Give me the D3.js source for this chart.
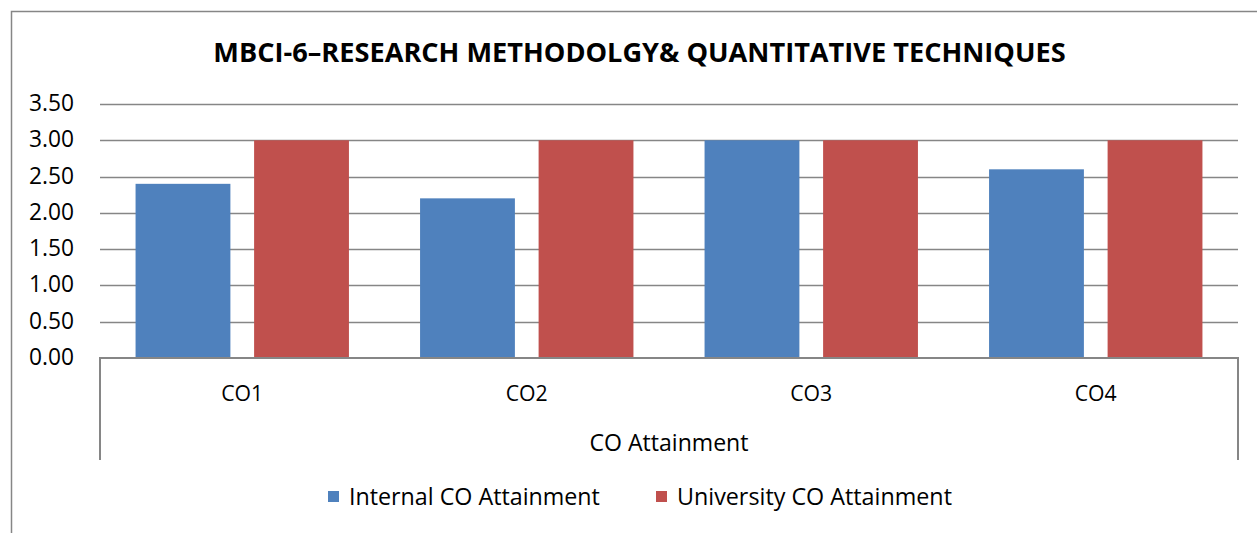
<!DOCTYPE html>
<html>
<head>
<meta charset="utf-8">
<script src="https://cdn.jsdelivr.net/npm/d3@7"></script>
<style>
  body { margin: 0; background: #fff; }
  text { font-family: "Open Sans", sans-serif; fill: #000; }
</style>
</head>
<body>
<svg id="viz" width="1257" height="533"></svg>
<script>
var categories = ['CO1', 'CO2', 'CO3', 'CO4'],
	seriesNames = ['Internal CO Attainment', 'University CO Attainment'],
	internalValues = [2.4, 2.2, 3.0, 2.6],
	universityValues = [3.0, 3.0, 3.0, 3.0],
	yTicks = [0, 0.5, 1, 1.5, 2, 2.5, 3, 3.5],
	colors = ['#4f81bd', '#c0504d'],
	title = 'MBCI-6\u2013RESEARCH METHODOLGY& QUANTITATIVE TECHNIQUES',
	groupLabel = 'CO Attainment';

var svg = d3.select('#viz');
var plotLeft = 100, plotRight = 1238, plotTop = 104, plotBottom = 358;

// shrink/grow font so the text takes the width it has in the picture
function fit(sel, width) {
	var w = sel.node().getComputedTextLength();
	var fs = parseFloat(sel.attr('font-size'));
	sel.attr('font-size', fs * width / w);
}

// outer chart border (runs off the right and bottom edge)
svg.append('rect')
	.attr('x', 11.5).attr('y', 11.5)
	.attr('width', 1300).attr('height', 600)
	.attr('fill', 'none').attr('stroke', '#868686').attr('stroke-width', 1.5);

var t = svg.append('text')
	.attr('x', 639.5).attr('y', 62)
	.attr('text-anchor', 'middle')
	.attr('font-weight', 'bold')
	.attr('font-size', 28)
	.text(title);
fit(t, 853);

var x0 = d3.scaleBand().domain(categories).range([plotLeft, plotRight]);
var x1 = d3.scaleBand().domain(seriesNames).range([0, x0.bandwidth()])
	.paddingInner(0.2).paddingOuter(0.3);
var y = d3.scaleLinear().domain([0, 3.5]).range([plotBottom, plotTop]);

// gridlines
svg.append('g').selectAll('line').data(yTicks.filter(function(d) { return d > 0; }))
	.join('line')
	.attr('x1', plotLeft).attr('x2', plotRight)
	.attr('y1', function(d) { return Math.round(y(d)) + 0.5; })
	.attr('y2', function(d) { return Math.round(y(d)) + 0.5; })
	.attr('stroke', '#868686').attr('stroke-width', 1.3);

// y labels
var yl = svg.append('g').selectAll('text').data(yTicks).join('text')
	.attr('x', 74)
	.attr('y', function(d) { return y(d) + 7; })
	.attr('text-anchor', 'end')
	.attr('font-size', 20)
	.text(function(d) { return d.toFixed(2); });
yl.each(function() { fit(d3.select(this), 45); });

// bars
var rows = categories.map(function(c, i) {
	return { cat: c, values: [internalValues[i], universityValues[i]] };
});
svg.append('g').selectAll('g').data(rows).join('g')
	.attr('transform', function(d) { return 'translate(' + x0(d.cat) + ',0)'; })
	.selectAll('rect')
	.data(function(d) { return d.values.map(function(v, j) { return { name: seriesNames[j], v: v, j: j }; }); })
	.join('rect')
	.attr('x', function(d) { return x1(d.name); })
	.attr('width', x1.bandwidth())
	.attr('y', function(d) { return y(d.v); })
	.attr('height', function(d) { return y(0) - y(d.v); })
	.attr('fill', function(d) { return colors[d.j]; });

// category axis
svg.append('path')
	.attr('d', 'M' + plotLeft + ',460V' + plotBottom + 'H' + plotRight + 'V460')
	.attr('fill', 'none').attr('stroke', '#868686').attr('stroke-width', 2);

var cl = svg.append('g').selectAll('text').data(categories).join('text')
	.attr('x', function(d) { return x0(d) + x0.bandwidth() / 2; })
	.attr('y', 401)
	.attr('text-anchor', 'middle')
	.attr('font-size', 20)
	.text(function(d) { return d; });
cl.each(function() { fit(d3.select(this), 42); });

var gl = svg.append('text')
	.attr('x', (plotLeft + plotRight) / 2).attr('y', 451)
	.attr('text-anchor', 'middle')
	.attr('font-size', 20)
	.text(groupLabel);
fit(gl, 159);

// legend
var legendX = [328, 656], legendW = [251, 275];
seriesNames.forEach(function(s, i) {
	svg.append('rect')
		.attr('x', legendX[i]).attr('y', 491)
		.attr('width', 11).attr('height', 11)
		.attr('fill', colors[i]);
	var lt = svg.append('text')
		.attr('x', legendX[i] + 21).attr('y', 505)
		.attr('font-size', 20)
		.text(s);
	fit(lt, legendW[i]);
});
</script>
</body>
</html>
